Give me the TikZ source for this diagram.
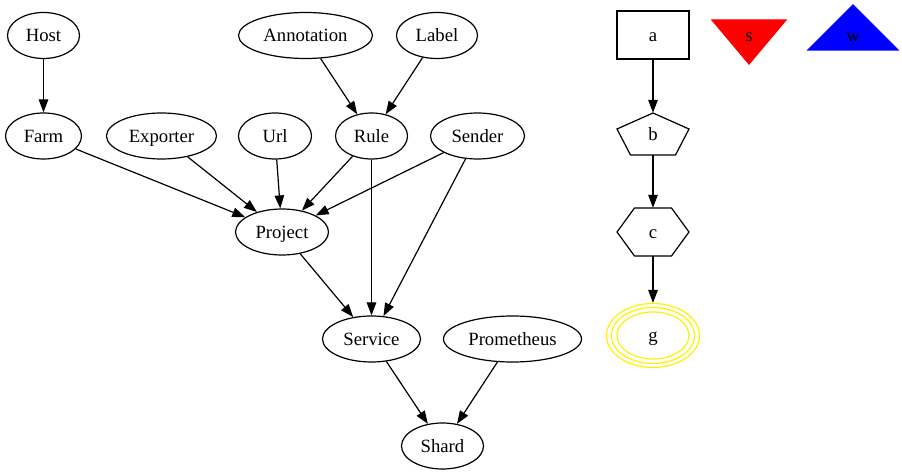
\documentclass[tikz,border=0pt]{standalone}
\usepackage{fontspec}
\setmainfont{Liberation Serif}
\usetikzlibrary{arrows.meta,shapes.geometric}

\begin{document}
\begin{tikzpicture}[x=1bp,y=-1bp,
  font=\fontsize{18.7bp}{22bp}\selectfont,
  every node/.style={text height=13bp,text depth=0pt,inner sep=1bp},
  ent/.style={ellipse,draw,line width=1.2bp,minimum height=46bp},
  slot/.style={minimum width=72bp},
  link/.style={line width=1.2bp,-{Triangle[length=13bp,width=9.5bp]}}]
  \useasboundingbox (0,0) rectangle (902,475);

  % rank 1
  \node[ent,minimum width=72bp] (host) at (43.5,35.5) {Host};
  \node[ent,minimum width=134bp] (annotation) at (305.5,35.5) {Annotation};
  \node[ent,minimum width=81bp] (label) at (437,35.5) {Label};
  % rank 2
  \node[ent,minimum width=76bp] (farm) at (43.5,136) {Farm};
  \node[ent,minimum width=110bp] (exporter) at (161.5,136) {Exporter};
  \node[ent,minimum width=73bp] (url) at (275,136) {Url};
  \node[ent,minimum width=72bp] (rule) at (371.5,136) {Rule};
  \node[ent,minimum width=94bp] (sender) at (477.5,136) {Sender};
  % rank 3 to 5
  \node[ent,minimum width=93bp] (project) at (282,232) {Project};
  \node[ent,minimum width=98bp] (service) at (371.5,339) {Service};
  \node[ent,minimum width=138bp] (prometheus) at (512.5,339) {Prometheus};
  \node[ent,minimum width=82bp] (shard) at (442.5,446) {Shard};

  \draw[link] (host) -- (farm);
  \draw[link] (annotation) -- (rule);
  \draw[link] (label) -- (rule);
  \draw[link] (farm) -- (project);
  \draw[link] (exporter) -- (project);
  \draw[link] (url) -- (project);
  \draw[link] (rule) -- (project);
  \draw[link] (sender) -- (project);
  \draw[link] (project) -- (service);
  \draw[link] (rule) -- (service);
  \draw[link] (sender) -- (service);
  \draw[link] (service) -- (shard);
  \draw[link] (prometheus) -- (shard);

  % shapes column
  \node[slot,draw,line width=1.2bp,minimum height=48bp] (a) at (653,35) {a};
  \node[slot,minimum height=42bp] (b) at (653,134) {b};
  \draw[line width=1.2bp,shift={(b.center)}] (0,-21) -- (36,-5) -- (22.5,21) -- (-22.5,21) -- (-36,-5) -- cycle;
  \node[slot,minimum height=48bp] (c) at (653,232) {c};
  \draw[line width=1.2bp,shift={(c.center)}] (-18.5,-24) -- (18.5,-24) -- (36,0) -- (18.5,24) -- (-18.5,24) -- (-36,0) -- cycle;
  \node[ellipse,draw=yellow,line width=1.2bp,minimum width=93bp,minimum height=64bp] (g) at (653,335.5) {g};
  \draw[yellow,line width=1.2bp] (g.center) ellipse [x radius=41.5bp,y radius=28bp]
    (g.center) ellipse [x radius=36bp,y radius=23.5bp];

  \draw[link] (a) -- (b);
  \draw[link] (b) -- (c);
  \draw[link] (c) -- (g);

  % triangles
  \filldraw[red,line width=1.2bp] (712,20) -- (786,20) -- (749,64) -- cycle;
  \node (s) at (749,35.5) {s};
  \filldraw[blue,line width=1.2bp] (853,5) -- (898,50) -- (808,50) -- cycle;
  \node (w) at (853,35.5) {w};
\end{tikzpicture}
\end{document}
